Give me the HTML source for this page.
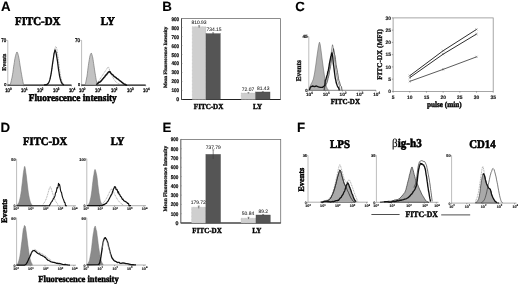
<!DOCTYPE html>
<html><head><meta charset="utf-8"><title>Figure</title>
<style>html,body{margin:0;padding:0;background:#fff;}body{width:520px;height:284px;overflow:hidden;}svg{display:block;filter:blur(0.22px);}text{text-rendering:geometricPrecision;}.S{font-family:'Liberation Serif', serif;}.N{font-family:'Liberation Sans', sans-serif;}</style>
</head><body>
<svg width="520" height="284" viewBox="0 0 520 284">
<rect x="0" y="0" width="520" height="284" fill="#fff" stroke="none" stroke-width="1"/>
<text class="N" x="0.9" y="10.6" font-size="13.3" font-weight="bold" text-anchor="start" fill="#000" stroke="#000" stroke-width="0.1">A</text>
<text class="N" x="162.2" y="10.7" font-size="13.3" font-weight="bold" text-anchor="start" fill="#000" stroke="#000" stroke-width="0.1">B</text>
<text class="N" x="295.2" y="10.9" font-size="13.3" font-weight="bold" text-anchor="start" fill="#000" stroke="#000" stroke-width="0.1">C</text>
<text class="N" x="0.6" y="131.7" font-size="13.3" font-weight="bold" text-anchor="start" fill="#000" stroke="#000" stroke-width="0.1">D</text>
<text class="N" x="162.5" y="131.8" font-size="13.3" font-weight="bold" text-anchor="start" fill="#000" stroke="#000" stroke-width="0.1">E</text>
<text class="N" x="296.9" y="131.7" font-size="13.3" font-weight="bold" text-anchor="start" fill="#000" stroke="#000" stroke-width="0.1">F</text>
<text class="S" x="37.8" y="24.6" font-size="11.88" font-weight="bold" text-anchor="middle" fill="#000" textLength="45.42" lengthAdjust="spacingAndGlyphs" stroke="#000" stroke-width="0.59">FITC-DX</text>
<text class="S" x="107.8" y="24.6" font-size="11.88" font-weight="bold" text-anchor="middle" fill="#000" textLength="14.14" lengthAdjust="spacingAndGlyphs" stroke="#000" stroke-width="0.59">LY</text>
<line x1="7.8" y1="40.4" x2="7.8" y2="85.1" stroke="#8f8f8f" stroke-width="0.6"/>
<line x1="6.3" y1="40.4" x2="7.8" y2="40.4" stroke="#8f8f8f" stroke-width="0.5"/>
<line x1="7.5" y1="85.1" x2="71.5" y2="85.1" stroke="#111" stroke-width="1.25"/>
<g transform="translate(6.2 42.3) scale(0.84 1)"><text class="N" x="0" y="0" font-size="5.3" text-anchor="end" fill="#000" stroke="#000" stroke-width="0.3">70</text></g>
<g transform="translate(6.4 86.4) scale(0.9 1)"><text class="N" x="0" y="0" font-size="4.24" text-anchor="end" fill="#000" stroke="#000" stroke-width="0.25">0</text></g>
<line x1="7.8" y1="85.1" x2="7.8" y2="86.3" stroke="#555" stroke-width="0.5"/>
<g transform="translate(8.4 92) scale(0.82 1)"><text class="N" x="0" y="0" font-size="5.3" text-anchor="middle" fill="#000" stroke="#000" stroke-width="0.3">10<tspan dy="-1.91" font-size="3.5">0</tspan></text></g>
<line x1="23.73" y1="85.1" x2="23.73" y2="86.3" stroke="#555" stroke-width="0.5"/>
<g transform="translate(24.33 92) scale(0.82 1)"><text class="N" x="0" y="0" font-size="5.3" text-anchor="middle" fill="#000" stroke="#000" stroke-width="0.3">10<tspan dy="-1.91" font-size="3.5">1</tspan></text></g>
<line x1="39.65" y1="85.1" x2="39.65" y2="86.3" stroke="#555" stroke-width="0.5"/>
<g transform="translate(40.25 92) scale(0.82 1)"><text class="N" x="0" y="0" font-size="5.3" text-anchor="middle" fill="#000" stroke="#000" stroke-width="0.3">10<tspan dy="-1.91" font-size="3.5">2</tspan></text></g>
<line x1="55.58" y1="85.1" x2="55.58" y2="86.3" stroke="#555" stroke-width="0.5"/>
<g transform="translate(56.18 92) scale(0.82 1)"><text class="N" x="0" y="0" font-size="5.3" text-anchor="middle" fill="#000" stroke="#000" stroke-width="0.3">10<tspan dy="-1.91" font-size="3.5">3</tspan></text></g>
<line x1="71.5" y1="85.1" x2="71.5" y2="86.3" stroke="#555" stroke-width="0.5"/>
<g transform="translate(72.1 92) scale(0.82 1)"><text class="N" x="0" y="0" font-size="5.3" text-anchor="middle" fill="#000" stroke="#000" stroke-width="0.3">10<tspan dy="-1.91" font-size="3.5">4</tspan></text></g>
<path d="M10.1 84.91 L10.25 84.38 L10.46 84.01 L10.71 82.89 L11 82.02 L11.33 80.55 L11.71 78.75 L12.11 77.09 L12.5 74.77 L12.88 72.52 L13.26 69.58 L13.64 66.81 L14 64.46 L14.35 62.45 L14.68 60.03 L15 58.23 L15.3 56.86 L15.58 55.77 L15.84 54.62 L16.08 53.77 L16.3 53.44 L16.5 52.49 L16.67 52.59 L16.83 52.14 L17 52.02 L17.17 52.05 L17.33 52.3 L17.5 52.86 L17.7 53.04 L17.92 53.9 L18.16 54.73 L18.42 55.63 L18.7 57.02 L19 58.49 L19.33 60.52 L19.67 62.75 L20 65.09 L20.32 66.99 L20.65 68.97 L20.98 71.11 L21.3 72.98 L21.63 74.77 L21.97 76.83 L22.3 78.51 L22.6 79.87 L22.89 81.55 L23.18 82.95 L23.43 84.34 L23.6 85 Z" fill="#c2c2c2" stroke="#777" stroke-width="0.7" stroke-linejoin="round"/>
<path d="M45 85 L45.5 84.87 L46 84.78 L46.5 84.64 L47 84.43 L47.5 84.11 L48 83.65 L48.5 83.01 L49 82.12 L49.5 80.93 L50 79.38 L50.5 77.43 L51 75.04 L51.5 72.2 L52 68.96 L52.5 65.37 L53 61.59 L53.5 57.77 L54 54.14 L54.5 50.95 L55 48.43 L55.5 46.85 L56 46.44 L56.5 47.49 L57 49.75 L57.5 52.92 L58 56.69 L58.5 60.76 L59 64.85 L59.5 68.73 L60 72.23 L60.5 75.25 L61 77.76 L61.5 79.77 L62 81.33 L62.5 82.49 L63 83.33 L63.5 83.92 L64 85" fill="none" stroke="#707070" stroke-width="0.6" stroke-linejoin="round" stroke-dasharray="1 0.7"/>
<path d="M44 85 L44.5 84.88 L45 85 L45.5 84.74 L46 84.77 L46.5 84.76 L47 84.3 L47.5 84.11 L48 83.43 L48.5 83 L49 82.07 L49.5 80.66 L50 79.13 L50.5 76.62 L51 74.28 L51.5 71.15 L52 67.73 L52.5 63.96 L53 60.77 L53.5 57.5 L54 53.88 L54.5 51.96 L55 49.81 L55.5 51.01 L56 52.42 L56.5 55.46 L57 58.45 L57.5 61.46 L58 65.42 L58.5 69.4 L59 72.24 L59.5 75.55 L60 77.83 L60.5 79.79 L61 81.3 L61.5 82.77 L62 83.29 L62.5 83.91 L63 84.34 L63.5 84.77 L64 85" fill="none" stroke="#111" stroke-width="1.25" stroke-linejoin="round"/>
<text class="S" x="6.3" y="62.2" font-size="5.9" font-weight="bold" text-anchor="middle" fill="#111" transform="rotate(-90 6.3 62.2)" stroke="#111" stroke-width="0.3">Events</text>
<line x1="81.6" y1="40.4" x2="81.6" y2="85.1" stroke="#8f8f8f" stroke-width="0.6"/>
<line x1="80.1" y1="40.4" x2="81.6" y2="40.4" stroke="#8f8f8f" stroke-width="0.5"/>
<line x1="81.3" y1="85.1" x2="145.7" y2="85.1" stroke="#111" stroke-width="1.25"/>
<g transform="translate(80 42.3) scale(0.84 1)"><text class="N" x="0" y="0" font-size="5.3" text-anchor="end" fill="#000" stroke="#000" stroke-width="0.3">70</text></g>
<g transform="translate(80.2 86.4) scale(0.9 1)"><text class="N" x="0" y="0" font-size="4.24" text-anchor="end" fill="#000" stroke="#000" stroke-width="0.25">0</text></g>
<line x1="81.6" y1="85.1" x2="81.6" y2="86.3" stroke="#555" stroke-width="0.5"/>
<g transform="translate(82.2 92) scale(0.82 1)"><text class="N" x="0" y="0" font-size="5.3" text-anchor="middle" fill="#000" stroke="#000" stroke-width="0.3">10<tspan dy="-1.91" font-size="3.5">0</tspan></text></g>
<line x1="97.62" y1="85.1" x2="97.62" y2="86.3" stroke="#555" stroke-width="0.5"/>
<g transform="translate(98.22 92) scale(0.82 1)"><text class="N" x="0" y="0" font-size="5.3" text-anchor="middle" fill="#000" stroke="#000" stroke-width="0.3">10<tspan dy="-1.91" font-size="3.5">1</tspan></text></g>
<line x1="113.65" y1="85.1" x2="113.65" y2="86.3" stroke="#555" stroke-width="0.5"/>
<g transform="translate(114.25 92) scale(0.82 1)"><text class="N" x="0" y="0" font-size="5.3" text-anchor="middle" fill="#000" stroke="#000" stroke-width="0.3">10<tspan dy="-1.91" font-size="3.5">2</tspan></text></g>
<line x1="129.67" y1="85.1" x2="129.67" y2="86.3" stroke="#555" stroke-width="0.5"/>
<g transform="translate(130.27 92) scale(0.82 1)"><text class="N" x="0" y="0" font-size="5.3" text-anchor="middle" fill="#000" stroke="#000" stroke-width="0.3">10<tspan dy="-1.91" font-size="3.5">3</tspan></text></g>
<line x1="145.7" y1="85.1" x2="145.7" y2="86.3" stroke="#555" stroke-width="0.5"/>
<g transform="translate(146.3 92) scale(0.82 1)"><text class="N" x="0" y="0" font-size="5.3" text-anchor="middle" fill="#000" stroke="#000" stroke-width="0.3">10<tspan dy="-1.91" font-size="3.5">4</tspan></text></g>
<path d="M84.77 84.97 L84.91 84.78 L85.1 84.63 L85.34 84.06 L85.61 83.18 L85.92 81.57 L86.27 79.99 L86.64 78.04 L87 76.19 L87.35 73.78 L87.71 70.62 L88.06 67.85 L88.4 65.37 L88.72 63.15 L89.03 61.21 L89.33 59.42 L89.61 57.68 L89.86 56.3 L90.1 55.54 L90.33 54.76 L90.53 54.23 L90.72 53.95 L90.88 53.51 L91.03 53.26 L91.19 53.26 L91.34 53.33 L91.49 53.18 L91.65 53.91 L91.84 54.34 L92.04 55.04 L92.27 55.81 L92.51 56.64 L92.77 57.95 L93.05 59.51 L93.35 61.8 L93.67 63.68 L93.98 65.78 L94.28 67.88 L94.58 69.89 L94.88 71.99 L95.19 73.78 L95.49 75.64 L95.81 77.58 L96.11 79.29 L96.39 80.93 L96.67 82.07 L96.93 83.62 L97.16 84.41 L97.32 85 Z" fill="#c2c2c2" stroke="#777" stroke-width="0.7" stroke-linejoin="round"/>
<path d="M96 84.5 L96.78 83.48 L97.89 82.02 L99 80.5 L100 79.04 L101 77.52 L102 76 L103.02 74.46 L104.04 72.93 L105 71.5 L105.9 70.17 L106.73 68.94 L107.4 68 L107.84 67.35 L108.12 66.98 L108.4 67 L108.71 67.5 L109.02 68.39 L109.4 69.5 L109.86 70.85 L110.38 72.43 L111 74 L111.77 75.54 L112.63 77.07 L113.5 78.5 L114.28 79.78 L115.06 80.94 L116 82 L117.37 83 L118.91 83.89 L120 84.5" fill="none" stroke="#707070" stroke-width="0.6" stroke-linejoin="round" stroke-dasharray="1 0.7"/>
<path d="M96.3 84.59 L96.74 84.25 L97.38 83.73 L98.1 83.11 L98.8 82.37 L99.47 82.32 L100.15 81.95 L100.83 81.15 L101.5 80.59 L102.14 79.67 L102.76 78.93 L103.38 78.29 L104 77.46 L104.64 77.01 L105.29 75.8 L105.92 74.93 L106.5 74.77 L107.04 73.87 L107.54 73.04 L108 72.76 L108.4 72.02 L108.71 71.97 L108.94 71.97 L109.16 71.74 L109.4 71.62 L109.66 71.51 L109.91 71.87 L110.21 72.15 L110.6 72.96 L111.1 73.34 L111.69 74.1 L112.33 74.48 L113 75.03 L113.71 75.96 L114.46 76.63 L115.24 77.12 L116 77.68 L116.75 78.3 L117.5 78.88 L118.25 79.2 L119 80.01 L119.75 80.58 L120.5 81.07 L121.25 81.73 L122 82.47 L122.77 82.94 L123.56 83.63 L124.32 84.15 L125 84.17 L125.62 84.74 L126.19 84.99 L126.66 85.15 L127 85" fill="none" stroke="#111" stroke-width="1.5" stroke-linejoin="round"/>
<text class="S" x="72.8" y="101.1" font-size="10.14" font-weight="bold" text-anchor="middle" fill="#000" textLength="87.9" lengthAdjust="spacingAndGlyphs" stroke="#000" stroke-width="0.51">Fluorescence intensity</text>
<rect x="181.5" y="18.6" width="99" height="80.9" fill="#fff" stroke="#707070" stroke-width="0.8"/>
<line x1="181.5" y1="18.6" x2="181.5" y2="99.5" stroke="#444" stroke-width="0.9"/>
<line x1="181.5" y1="99.5" x2="280.5" y2="99.5" stroke="#222" stroke-width="1"/>
<line x1="181.5" y1="99.5" x2="182.7" y2="99.5" stroke="#777" stroke-width="0.4"/>
<text class="N" x="179.1" y="101.45" font-size="5.3" font-weight="bold" text-anchor="end" fill="#0a0a0a" stroke="#0a0a0a" stroke-width="0.18">0</text>
<line x1="181.5" y1="90.51" x2="182.7" y2="90.51" stroke="#777" stroke-width="0.4"/>
<text class="N" x="179.1" y="92.46" font-size="5.3" font-weight="bold" text-anchor="end" fill="#0a0a0a" textLength="7.67" lengthAdjust="spacingAndGlyphs" stroke="#0a0a0a" stroke-width="0.18">100</text>
<line x1="181.5" y1="81.52" x2="182.7" y2="81.52" stroke="#777" stroke-width="0.4"/>
<text class="N" x="179.1" y="83.47" font-size="5.3" font-weight="bold" text-anchor="end" fill="#0a0a0a" textLength="7.67" lengthAdjust="spacingAndGlyphs" stroke="#0a0a0a" stroke-width="0.18">200</text>
<line x1="181.5" y1="72.53" x2="182.7" y2="72.53" stroke="#777" stroke-width="0.4"/>
<text class="N" x="179.1" y="74.48" font-size="5.3" font-weight="bold" text-anchor="end" fill="#0a0a0a" textLength="7.67" lengthAdjust="spacingAndGlyphs" stroke="#0a0a0a" stroke-width="0.18">300</text>
<line x1="181.5" y1="63.54" x2="182.7" y2="63.54" stroke="#777" stroke-width="0.4"/>
<text class="N" x="179.1" y="65.49" font-size="5.3" font-weight="bold" text-anchor="end" fill="#0a0a0a" textLength="7.67" lengthAdjust="spacingAndGlyphs" stroke="#0a0a0a" stroke-width="0.18">400</text>
<line x1="181.5" y1="54.56" x2="182.7" y2="54.56" stroke="#777" stroke-width="0.4"/>
<text class="N" x="179.1" y="56.51" font-size="5.3" font-weight="bold" text-anchor="end" fill="#0a0a0a" textLength="7.67" lengthAdjust="spacingAndGlyphs" stroke="#0a0a0a" stroke-width="0.18">500</text>
<line x1="181.5" y1="45.57" x2="182.7" y2="45.57" stroke="#777" stroke-width="0.4"/>
<text class="N" x="179.1" y="47.52" font-size="5.3" font-weight="bold" text-anchor="end" fill="#0a0a0a" textLength="7.67" lengthAdjust="spacingAndGlyphs" stroke="#0a0a0a" stroke-width="0.18">600</text>
<line x1="181.5" y1="36.58" x2="182.7" y2="36.58" stroke="#777" stroke-width="0.4"/>
<text class="N" x="179.1" y="38.53" font-size="5.3" font-weight="bold" text-anchor="end" fill="#0a0a0a" textLength="7.67" lengthAdjust="spacingAndGlyphs" stroke="#0a0a0a" stroke-width="0.18">700</text>
<line x1="181.5" y1="27.59" x2="182.7" y2="27.59" stroke="#777" stroke-width="0.4"/>
<text class="N" x="179.1" y="29.54" font-size="5.3" font-weight="bold" text-anchor="end" fill="#0a0a0a" textLength="7.67" lengthAdjust="spacingAndGlyphs" stroke="#0a0a0a" stroke-width="0.18">800</text>
<line x1="181.5" y1="18.6" x2="182.7" y2="18.6" stroke="#777" stroke-width="0.4"/>
<text class="N" x="179.1" y="20.55" font-size="5.3" font-weight="bold" text-anchor="end" fill="#0a0a0a" textLength="7.67" lengthAdjust="spacingAndGlyphs" stroke="#0a0a0a" stroke-width="0.18">900</text>
<rect x="192.3" y="26.7" width="13.7" height="72.8" fill="#cfcfcf" stroke="#a8a8a8" stroke-width="0.4" stroke-dasharray="0.8 0.6"/>
<line x1="199.15" y1="25.7" x2="199.15" y2="27.7" stroke="#3a3a3a" stroke-width="0.6"/>
<line x1="198.15" y1="25.7" x2="200.15" y2="25.7" stroke="#3a3a3a" stroke-width="0.45"/>
<rect x="206" y="33.7" width="14.2" height="65.8" fill="#555555" stroke="#444" stroke-width="0.4"/>
<line x1="213.1" y1="32.7" x2="213.1" y2="34.7" stroke="#3a3a3a" stroke-width="0.6"/>
<line x1="212.1" y1="32.7" x2="214.1" y2="32.7" stroke="#3a3a3a" stroke-width="0.45"/>
<rect x="241.2" y="93" width="14.5" height="6.5" fill="#cfcfcf" stroke="#a8a8a8" stroke-width="0.4" stroke-dasharray="0.8 0.6"/>
<line x1="248.45" y1="92.6" x2="248.45" y2="93.4" stroke="#3a3a3a" stroke-width="0.6"/>
<line x1="247.45" y1="92.6" x2="249.45" y2="92.6" stroke="#3a3a3a" stroke-width="0.45"/>
<rect x="255.7" y="92" width="14.3" height="7.5" fill="#555555" stroke="#444" stroke-width="0.4"/>
<line x1="262.85" y1="91.6" x2="262.85" y2="92.4" stroke="#3a3a3a" stroke-width="0.6"/>
<line x1="261.85" y1="91.6" x2="263.85" y2="91.6" stroke="#3a3a3a" stroke-width="0.45"/>
<text class="N" x="199" y="24.2" font-size="4.9" font-weight="normal" text-anchor="middle" fill="#1a1a1a" textLength="15.17" lengthAdjust="spacingAndGlyphs" stroke="#1a1a1a" stroke-width="0.06">810.93</text>
<text class="N" x="214" y="30.5" font-size="4.9" font-weight="normal" text-anchor="middle" fill="#1a1a1a" textLength="15.17" lengthAdjust="spacingAndGlyphs" stroke="#1a1a1a" stroke-width="0.06">734.15</text>
<text class="N" x="248" y="90.7" font-size="4.9" font-weight="normal" text-anchor="middle" fill="#1a1a1a" textLength="12.41" lengthAdjust="spacingAndGlyphs" stroke="#1a1a1a" stroke-width="0.06">72.07</text>
<text class="N" x="263.2" y="90.1" font-size="4.9" font-weight="normal" text-anchor="middle" fill="#1a1a1a" textLength="12.41" lengthAdjust="spacingAndGlyphs" stroke="#1a1a1a" stroke-width="0.06">81.43</text>
<text class="S" x="167.3" y="57.35" font-size="5" font-weight="bold" text-anchor="middle" fill="#111" transform="rotate(-90 167.3 57.35)" stroke="#111" stroke-width="0.25">Mean Fluorescence Intensity</text>
<text class="S" x="208.6" y="109.4" font-size="7.74" font-weight="bold" text-anchor="middle" fill="#000" textLength="29.58" lengthAdjust="spacingAndGlyphs" stroke="#000" stroke-width="0.39">FITC-DX</text>
<text class="S" x="257.6" y="109.4" font-size="7.74" font-weight="bold" text-anchor="middle" fill="#000" textLength="9.21" lengthAdjust="spacingAndGlyphs" stroke="#000" stroke-width="0.39">LY</text>
<line x1="308.8" y1="36.6" x2="308.8" y2="90.3" stroke="#8f8f8f" stroke-width="0.6"/>
<line x1="307.3" y1="36.6" x2="308.8" y2="36.6" stroke="#8f8f8f" stroke-width="0.5"/>
<line x1="308.5" y1="90.3" x2="376" y2="90.3" stroke="#777" stroke-width="0.9"/>
<text class="N" x="307.8" y="38.4" font-size="4.8" font-weight="bold" text-anchor="end" fill="#111" stroke="#111" stroke-width="0.14">45</text>
<text class="N" x="307.6" y="91.8" font-size="4.42" font-weight="bold" text-anchor="end" fill="#222" stroke="#222" stroke-width="0.13">0</text>
<line x1="308.8" y1="90.3" x2="308.8" y2="91.5" stroke="#555" stroke-width="0.5"/>
<text class="N" x="309.5" y="95.69" font-size="4.7" font-weight="bold" text-anchor="middle" fill="#111" stroke="#111" stroke-width="0.12">10<tspan dy="-1.5" font-size="3.38">0</tspan></text>
<line x1="325.6" y1="90.3" x2="325.6" y2="91.5" stroke="#555" stroke-width="0.5"/>
<text class="N" x="326.3" y="95.69" font-size="4.7" font-weight="bold" text-anchor="middle" fill="#111" stroke="#111" stroke-width="0.12">10<tspan dy="-1.5" font-size="3.38">1</tspan></text>
<line x1="342.4" y1="90.3" x2="342.4" y2="91.5" stroke="#555" stroke-width="0.5"/>
<text class="N" x="343.1" y="95.69" font-size="4.7" font-weight="bold" text-anchor="middle" fill="#111" stroke="#111" stroke-width="0.12">10<tspan dy="-1.5" font-size="3.38">2</tspan></text>
<line x1="359.2" y1="90.3" x2="359.2" y2="91.5" stroke="#555" stroke-width="0.5"/>
<text class="N" x="359.9" y="95.69" font-size="4.7" font-weight="bold" text-anchor="middle" fill="#111" stroke="#111" stroke-width="0.12">10<tspan dy="-1.5" font-size="3.38">3</tspan></text>
<line x1="376" y1="90.3" x2="376" y2="91.5" stroke="#555" stroke-width="0.5"/>
<text class="N" x="376.7" y="95.69" font-size="4.7" font-weight="bold" text-anchor="middle" fill="#111" stroke="#111" stroke-width="0.12">10<tspan dy="-1.5" font-size="3.38">4</tspan></text>
<text class="S" x="300.6" y="70.8" font-size="7.3" font-weight="bold" text-anchor="middle" fill="#111" transform="rotate(-90 300.6 70.8)" stroke="#111" stroke-width="0.36">Events</text>
<path d="M309 90.3 L309.6 87.5 L310.8 84.5 L312.2 82 L313.4 79 L314.6 73 L315.8 65 L317 56 L318.2 48 L319 43.5 L319.5 42.2 L320.2 44.5 L321.1 51 L322.1 59 L323.2 67 L324.3 75 L325.4 82 L326.4 86.5 L327.4 89 L328.5 90.3 Z" fill="#b2b2b2" stroke="#6a6a6a" stroke-width="0.6" stroke-linejoin="round"/>
<path d="M324 90.3 L324.5 87.1 L325 86.39 L325.5 85.5 L326 84.48 L326.5 83.75 L327 82.71 L327.5 81.06 L328 78.73 L328.5 76.9 L329 74.83 L329.5 70.95 L330 69.22 L330.5 66.78 L331 63.39 L331.5 60.13 L332 56.25 L332.5 52.39 L333 51.71 L333.5 48.59 L334 51.11 L334.5 54.2 L335 55.74 L335.5 59.3 L336 64.2 L336.5 67.11 L337 69.28 L337.5 72.3 L338 75.14 L338.5 78.73 L339 80.67 L339.5 81.65 L340 84.01 L340.5 85.46 L341 86.18 L341.5 86.78 L342 90.3" fill="none" stroke="#222" stroke-width="0.7" stroke-linejoin="round"/>
<path d="M324.5 90.3 L325 85.45 L325.5 84.35 L326 83.04 L326.5 81.5 L327 79.7 L327.5 77.62 L328 75.23 L328.5 72.52 L329 69.48 L329.5 66.14 L330 62.52 L330.5 58.69 L331 54.75 L331.5 50.88 L332 47.35 L332.5 44.74 L333 46.44 L333.5 50.26 L334 54.61 L334.5 59.06 L335 63.36 L335.5 67.37 L336 71 L336.5 74.23 L337 77.04 L337.5 79.47 L338 81.52 L338.5 83.24 L339 84.66 L339.5 85.83 L340 90.3" fill="none" stroke="#444" stroke-width="0.55" stroke-linejoin="round"/>
<path d="M309.4 89.9 L310.4 87.2 L312.4 86 L314.4 86.6 L316.4 86 L318.4 86.9 L320.4 87.4 L322.4 87.4 L324 86.2 L324.8 85.2 L325.3 80.05 L325.8 79.85 L326.3 77.85 L326.8 75.92 L327.3 74.68 L327.8 71.77 L328.3 70.38 L328.8 67.99 L329.3 64.23 L329.8 61.77 L330.3 59.33 L330.8 56.75 L331.3 55.5 L331.8 52.87 L332.3 54.35 L332.8 57.38 L333.3 63.6 L333.8 66.66 L334.3 70.92 L334.8 74.74 L335.3 78.31 L335.8 80.28 L336.3 83.04 L336.8 84.35 L337.3 85.8 L337.8 86.9 L338.3 87.36 L338.8 88.37 L339.3 90.3" fill="none" stroke="#111" stroke-width="1.35" stroke-linejoin="round"/>
<text class="S" x="345.4" y="103.5" font-size="7.63" font-weight="bold" text-anchor="middle" fill="#000" textLength="29.17" lengthAdjust="spacingAndGlyphs" stroke="#000" stroke-width="0.38">FITC-DX</text>
<rect x="393.1" y="17.9" width="100.1" height="73.5" fill="#fff" stroke="#909090" stroke-width="0.8"/>
<line x1="391.8" y1="91.4" x2="393.1" y2="91.4" stroke="#555" stroke-width="0.5"/>
<text class="N" x="390.9" y="93.15" font-size="4.9" font-weight="bold" text-anchor="end" fill="#1a1a1a" stroke="#1a1a1a" stroke-width="0.15">0</text>
<line x1="391.8" y1="79.15" x2="393.1" y2="79.15" stroke="#555" stroke-width="0.5"/>
<text class="N" x="390.9" y="80.9" font-size="4.9" font-weight="bold" text-anchor="end" fill="#1a1a1a" stroke="#1a1a1a" stroke-width="0.15">5</text>
<line x1="391.8" y1="66.9" x2="393.1" y2="66.9" stroke="#555" stroke-width="0.5"/>
<text class="N" x="390.9" y="68.65" font-size="4.9" font-weight="bold" text-anchor="end" fill="#1a1a1a" stroke="#1a1a1a" stroke-width="0.15">10</text>
<line x1="391.8" y1="54.65" x2="393.1" y2="54.65" stroke="#555" stroke-width="0.5"/>
<text class="N" x="390.9" y="56.4" font-size="4.9" font-weight="bold" text-anchor="end" fill="#1a1a1a" stroke="#1a1a1a" stroke-width="0.15">15</text>
<line x1="391.8" y1="42.4" x2="393.1" y2="42.4" stroke="#555" stroke-width="0.5"/>
<text class="N" x="390.9" y="44.15" font-size="4.9" font-weight="bold" text-anchor="end" fill="#1a1a1a" stroke="#1a1a1a" stroke-width="0.15">20</text>
<line x1="391.8" y1="30.15" x2="393.1" y2="30.15" stroke="#555" stroke-width="0.5"/>
<text class="N" x="390.9" y="31.9" font-size="4.9" font-weight="bold" text-anchor="end" fill="#1a1a1a" stroke="#1a1a1a" stroke-width="0.15">25</text>
<line x1="391.8" y1="17.9" x2="393.1" y2="17.9" stroke="#555" stroke-width="0.5"/>
<text class="N" x="390.9" y="19.65" font-size="4.9" font-weight="bold" text-anchor="end" fill="#1a1a1a" stroke="#1a1a1a" stroke-width="0.15">30</text>
<line x1="393.1" y1="91.4" x2="393.1" y2="92.7" stroke="#555" stroke-width="0.5"/>
<text class="N" x="393.1" y="98.9" font-size="4.9" font-weight="bold" text-anchor="middle" fill="#1a1a1a" stroke="#1a1a1a" stroke-width="0.15">5</text>
<line x1="409.78" y1="91.4" x2="409.78" y2="92.7" stroke="#555" stroke-width="0.5"/>
<text class="N" x="409.78" y="98.9" font-size="4.9" font-weight="bold" text-anchor="middle" fill="#1a1a1a" stroke="#1a1a1a" stroke-width="0.15">10</text>
<line x1="426.47" y1="91.4" x2="426.47" y2="92.7" stroke="#555" stroke-width="0.5"/>
<text class="N" x="426.47" y="98.9" font-size="4.9" font-weight="bold" text-anchor="middle" fill="#1a1a1a" stroke="#1a1a1a" stroke-width="0.15">15</text>
<line x1="443.15" y1="91.4" x2="443.15" y2="92.7" stroke="#555" stroke-width="0.5"/>
<text class="N" x="443.15" y="98.9" font-size="4.9" font-weight="bold" text-anchor="middle" fill="#1a1a1a" stroke="#1a1a1a" stroke-width="0.15">20</text>
<line x1="459.83" y1="91.4" x2="459.83" y2="92.7" stroke="#555" stroke-width="0.5"/>
<text class="N" x="459.83" y="98.9" font-size="4.9" font-weight="bold" text-anchor="middle" fill="#1a1a1a" stroke="#1a1a1a" stroke-width="0.15">25</text>
<line x1="476.52" y1="91.4" x2="476.52" y2="92.7" stroke="#555" stroke-width="0.5"/>
<text class="N" x="476.52" y="98.9" font-size="4.9" font-weight="bold" text-anchor="middle" fill="#1a1a1a" stroke="#1a1a1a" stroke-width="0.15">30</text>
<line x1="493.2" y1="91.4" x2="493.2" y2="92.7" stroke="#555" stroke-width="0.5"/>
<text class="N" x="493.2" y="98.9" font-size="4.9" font-weight="bold" text-anchor="middle" fill="#1a1a1a" stroke="#1a1a1a" stroke-width="0.15">35</text>
<path d="M409.78 75.72 L443.15 50.73 L476.52 29.42" fill="none" stroke="#2e2e2e" stroke-width="1" stroke-linejoin="round"/>
<line x1="408.68" y1="74.62" x2="410.88" y2="76.82" stroke="#444" stroke-width="0.4"/>
<line x1="408.68" y1="76.82" x2="410.88" y2="74.62" stroke="#444" stroke-width="0.4"/>
<line x1="442.05" y1="49.63" x2="444.25" y2="51.83" stroke="#444" stroke-width="0.4"/>
<line x1="442.05" y1="51.83" x2="444.25" y2="49.63" stroke="#444" stroke-width="0.4"/>
<line x1="475.42" y1="28.32" x2="477.62" y2="30.52" stroke="#444" stroke-width="0.4"/>
<line x1="475.42" y1="30.52" x2="477.62" y2="28.32" stroke="#444" stroke-width="0.4"/>
<path d="M409.78 77.68 L443.15 54.16 L476.52 34.07" fill="none" stroke="#2e2e2e" stroke-width="1" stroke-linejoin="round"/>
<line x1="408.68" y1="76.58" x2="410.88" y2="78.78" stroke="#444" stroke-width="0.4"/>
<line x1="408.68" y1="78.78" x2="410.88" y2="76.58" stroke="#444" stroke-width="0.4"/>
<line x1="442.05" y1="53.06" x2="444.25" y2="55.26" stroke="#444" stroke-width="0.4"/>
<line x1="442.05" y1="55.26" x2="444.25" y2="53.06" stroke="#444" stroke-width="0.4"/>
<line x1="475.42" y1="32.97" x2="477.62" y2="35.17" stroke="#444" stroke-width="0.4"/>
<line x1="475.42" y1="35.17" x2="477.62" y2="32.97" stroke="#444" stroke-width="0.4"/>
<path d="M409.78 81.36 L443.15 69.35 L476.52 56.86" fill="none" stroke="#484848" stroke-width="0.9" stroke-linejoin="round"/>
<line x1="408.68" y1="80.26" x2="410.88" y2="82.45" stroke="#444" stroke-width="0.4"/>
<line x1="408.68" y1="82.45" x2="410.88" y2="80.26" stroke="#444" stroke-width="0.4"/>
<line x1="442.05" y1="68.25" x2="444.25" y2="70.45" stroke="#444" stroke-width="0.4"/>
<line x1="442.05" y1="70.45" x2="444.25" y2="68.25" stroke="#444" stroke-width="0.4"/>
<line x1="475.42" y1="55.76" x2="477.62" y2="57.96" stroke="#444" stroke-width="0.4"/>
<line x1="475.42" y1="57.96" x2="477.62" y2="55.76" stroke="#444" stroke-width="0.4"/>
<text class="S" x="381.8" y="54.4" font-size="7.2" font-weight="bold" text-anchor="middle" fill="#111" transform="rotate(-90 381.8 54.4)" stroke="#111" stroke-width="0.36">FITC-DX (MFI)</text>
<text class="S" x="444.3" y="107.1" font-size="7.85" font-weight="bold" text-anchor="middle" fill="#000" textLength="34.6" lengthAdjust="spacingAndGlyphs" stroke="#000" stroke-width="0.39">pulse (min)</text>
<text class="S" x="45.2" y="145.2" font-size="11.55" font-weight="bold" text-anchor="middle" fill="#000" textLength="44.17" lengthAdjust="spacingAndGlyphs" stroke="#000" stroke-width="0.58">FITC-DX</text>
<text class="S" x="117.6" y="145.2" font-size="11.55" font-weight="bold" text-anchor="middle" fill="#000" textLength="13.75" lengthAdjust="spacingAndGlyphs" stroke="#000" stroke-width="0.58">LY</text>
<text class="S" x="7.2" y="211" font-size="8.4" font-weight="bold" text-anchor="middle" fill="#000" transform="rotate(-90 7.2 211)" stroke="#000" stroke-width="0.42">Events</text>
<line x1="16.6" y1="159.2" x2="16.6" y2="205.8" stroke="#8f8f8f" stroke-width="0.6"/>
<line x1="15.1" y1="159.2" x2="16.6" y2="159.2" stroke="#8f8f8f" stroke-width="0.5"/>
<line x1="16.3" y1="205.8" x2="76" y2="205.8" stroke="#8a8a8a" stroke-width="0.7"/>
<text class="N" x="15.6" y="161" font-size="3.9" font-weight="bold" text-anchor="end" fill="#111" stroke="#111" stroke-width="0.12">50</text>
<text class="N" x="15.4" y="207.3" font-size="3.59" font-weight="bold" text-anchor="end" fill="#222" stroke="#222" stroke-width="0.11">0</text>
<line x1="15.4" y1="205.8" x2="15.4" y2="207" stroke="#555" stroke-width="0.5"/>
<text class="N" x="16.1" y="210.32" font-size="3.7" font-weight="bold" text-anchor="middle" fill="#111" stroke="#111" stroke-width="0.12">10<tspan dy="-1.18" font-size="2.66">0</tspan></text>
<line x1="30.2" y1="205.8" x2="30.2" y2="207" stroke="#555" stroke-width="0.5"/>
<text class="N" x="30.9" y="210.32" font-size="3.7" font-weight="bold" text-anchor="middle" fill="#111" stroke="#111" stroke-width="0.12">10<tspan dy="-1.18" font-size="2.66">1</tspan></text>
<line x1="45" y1="205.8" x2="45" y2="207" stroke="#555" stroke-width="0.5"/>
<text class="N" x="45.7" y="210.32" font-size="3.7" font-weight="bold" text-anchor="middle" fill="#111" stroke="#111" stroke-width="0.12">10<tspan dy="-1.18" font-size="2.66">2</tspan></text>
<line x1="59.8" y1="205.8" x2="59.8" y2="207" stroke="#555" stroke-width="0.5"/>
<text class="N" x="60.5" y="210.32" font-size="3.7" font-weight="bold" text-anchor="middle" fill="#111" stroke="#111" stroke-width="0.12">10<tspan dy="-1.18" font-size="2.66">3</tspan></text>
<line x1="73.9" y1="205.8" x2="73.9" y2="207" stroke="#555" stroke-width="0.5"/>
<text class="N" x="74.6" y="210.32" font-size="3.7" font-weight="bold" text-anchor="middle" fill="#111" stroke="#111" stroke-width="0.12">10<tspan dy="-1.18" font-size="2.66">4</tspan></text>
<path d="M16.88 205.8 L17.38 204.83 L17.88 203.97 L18.38 203.33 L18.88 202.39 L19.38 200.85 L19.88 198.81 L20.38 196.55 L20.88 193.64 L21.38 190.4 L21.88 185.69 L22.38 181.88 L22.88 176.95 L23.38 172.64 L23.88 169.75 L24.38 166.69 L24.88 166.39 L25.38 168.92 L25.88 172.63 L26.38 176.07 L26.88 180.78 L27.38 185.03 L27.88 189.13 L28.38 192.91 L28.88 195.78 L29.38 198.37 L29.88 200.35 L30.38 202.17 L30.88 203.19 L31.38 204.13 L31.88 204.77 L32.38 205.8 Z" fill="#8b8b8b" stroke="#777" stroke-width="0.5" stroke-linejoin="round"/>
<path d="M42.5 205.8 L43 204.13 L43.5 203.66 L44 203.08 L44.5 202.37 L45 201.52 L45.5 200.51 L46 199.34 L46.5 198 L47 196.49 L47.5 194.85 L48 193.09 L48.5 191.29 L49 189.54 L49.5 187.97 L50 186.82 L50.5 186.95 L51 188.09 L51.5 189.55 L52 191.17 L52.5 192.84 L53 194.48 L53.5 196.03 L54 197.47 L54.5 198.77 L55 199.93 L55.5 200.95 L56 201.82 L56.5 202.57 L57 203.2 L57.5 203.72 L58 205.8" fill="none" stroke="#707070" stroke-width="0.6" stroke-linejoin="round" stroke-dasharray="1 0.7"/>
<path d="M16.4 205.7 L49.5 205.7 L50 204.29 L50.5 203.78 L51 202.51 L51.5 201.88 L52 201.57 L52.5 200.27 L53 199.56 L53.5 198.23 L54 198.06 L54.5 197.02 L55 195.9 L55.5 192.79 L56 192.5 L56.5 190.74 L57 187.63 L57.5 188.19 L58 187.04 L58.5 183.36 L59 185.16 L59.5 184.35 L60 186.51 L60.5 190.1 L61 191.82 L61.5 192.38 L62 195.07 L62.5 197.08 L63 198.42 L63.5 199.63 L64 201.01 L64.5 202.49 L65 202.47 L65.5 205.7 L67 205.7" fill="none" stroke="#111" stroke-width="1.1" stroke-linejoin="round"/>
<line x1="86.8" y1="158.8" x2="86.8" y2="205.7" stroke="#8f8f8f" stroke-width="0.6"/>
<line x1="85.3" y1="158.8" x2="86.8" y2="158.8" stroke="#8f8f8f" stroke-width="0.5"/>
<line x1="86.5" y1="205.7" x2="146" y2="205.7" stroke="#8a8a8a" stroke-width="0.7"/>
<text class="N" x="85.8" y="160.6" font-size="3.9" font-weight="bold" text-anchor="end" fill="#111" stroke="#111" stroke-width="0.12">100</text>
<text class="N" x="85.6" y="207.2" font-size="3.59" font-weight="bold" text-anchor="end" fill="#222" stroke="#222" stroke-width="0.11">0</text>
<line x1="85.3" y1="205.7" x2="85.3" y2="206.9" stroke="#555" stroke-width="0.5"/>
<text class="N" x="86" y="210.22" font-size="3.7" font-weight="bold" text-anchor="middle" fill="#111" stroke="#111" stroke-width="0.12">10<tspan dy="-1.18" font-size="2.66">0</tspan></text>
<line x1="99.5" y1="205.7" x2="99.5" y2="206.9" stroke="#555" stroke-width="0.5"/>
<text class="N" x="100.2" y="210.22" font-size="3.7" font-weight="bold" text-anchor="middle" fill="#111" stroke="#111" stroke-width="0.12">10<tspan dy="-1.18" font-size="2.66">1</tspan></text>
<line x1="114.6" y1="205.7" x2="114.6" y2="206.9" stroke="#555" stroke-width="0.5"/>
<text class="N" x="115.3" y="210.22" font-size="3.7" font-weight="bold" text-anchor="middle" fill="#111" stroke="#111" stroke-width="0.12">10<tspan dy="-1.18" font-size="2.66">2</tspan></text>
<line x1="129.1" y1="205.7" x2="129.1" y2="206.9" stroke="#555" stroke-width="0.5"/>
<text class="N" x="129.8" y="210.22" font-size="3.7" font-weight="bold" text-anchor="middle" fill="#111" stroke="#111" stroke-width="0.12">10<tspan dy="-1.18" font-size="2.66">3</tspan></text>
<line x1="143.9" y1="205.7" x2="143.9" y2="206.9" stroke="#555" stroke-width="0.5"/>
<text class="N" x="144.6" y="210.22" font-size="3.7" font-weight="bold" text-anchor="middle" fill="#111" stroke="#111" stroke-width="0.12">10<tspan dy="-1.18" font-size="2.66">4</tspan></text>
<path d="M87.85 205.7 L88.35 204.38 L88.85 203.81 L89.35 202.91 L89.85 201.4 L90.35 199.15 L90.85 197.21 L91.35 193.97 L91.85 190.53 L92.35 185.61 L92.85 181.58 L93.35 177.22 L93.85 174.77 L94.35 171.31 L94.85 169.51 L95.35 169.73 L95.85 171.57 L96.35 173.62 L96.85 175.97 L97.35 179.71 L97.85 184.8 L98.35 188.51 L98.85 192.45 L99.35 195.32 L99.85 198.14 L100.35 200.74 L100.85 202.26 L101.35 203.3 L101.85 204.52 L102.35 205.7 Z" fill="#8b8b8b" stroke="#777" stroke-width="0.5" stroke-linejoin="round"/>
<path d="M101 205.7 L101.5 204.05 L102 203.74 L102.5 203.39 L103 202.98 L103.5 202.51 L104 201.99 L104.5 201.4 L105 200.74 L105.5 200.01 L106 199.2 L106.5 198.33 L107 197.4 L107.5 196.4 L108 195.36 L108.5 194.28 L109 193.2 L109.5 192.12 L110 191.1 L110.5 190.18 L111 189.43 L111.5 189 L112 189.39 L112.5 190.09 L113 190.95 L113.5 191.9 L114 192.91 L114.5 193.94 L115 194.97 L115.5 195.97 L116 196.93 L116.5 197.85 L117 198.71 L117.5 199.51 L118 200.24 L118.5 200.92 L119 201.53 L119.5 202.07 L120 202.56 L120.5 203 L121 203.39 L121.5 203.72 L122 204.02 L122.5 204.28 L123 205.7" fill="none" stroke="#707070" stroke-width="0.6" stroke-linejoin="round" stroke-dasharray="1 0.7"/>
<path d="M86.8 205.6 L102.5 205.6 L103 204.6 L103.5 205 L104 204.22 L104.5 204.61 L105 204.02 L105.5 203.61 L106 203.43 L106.5 203.37 L107 202.23 L107.5 201.51 L108 201.3 L108.5 200.23 L109 199.23 L109.5 198.38 L110 197.2 L110.5 196.35 L111 195.4 L111.5 194.18 L112 193.9 L112.5 191.65 L113 190.92 L113.5 188.97 L114 188.38 L114.5 186.71 L115 187.18 L115.5 186.94 L116 189.44 L116.5 189.61 L117 189.44 L117.5 190.94 L118 192.82 L118.5 191.79 L119 194.16 L119.5 194.18 L120 195.12 L120.5 196.52 L121 196.49 L121.5 197.42 L122 198.39 L122.5 199.46 L123 199.15 L123.5 200.39 L124 200.75 L124.5 201.15 L125 201.34 L125.5 201.71 L126 201.81 L126.5 202.26 L127 202.54 L127.5 203.47 L128 203.3 L128.5 203.47 L129 205.6 L131 205.6" fill="none" stroke="#111" stroke-width="1.2" stroke-linejoin="round"/>
<line x1="16.6" y1="217.9" x2="16.6" y2="265.2" stroke="#8f8f8f" stroke-width="0.6"/>
<line x1="15.1" y1="217.9" x2="16.6" y2="217.9" stroke="#8f8f8f" stroke-width="0.5"/>
<line x1="16.3" y1="265.2" x2="76" y2="265.2" stroke="#8a8a8a" stroke-width="0.7"/>
<text class="N" x="15.6" y="219.7" font-size="3.9" font-weight="bold" text-anchor="end" fill="#111" stroke="#111" stroke-width="0.12">90</text>
<text class="N" x="15.4" y="266.7" font-size="3.59" font-weight="bold" text-anchor="end" fill="#222" stroke="#222" stroke-width="0.11">0</text>
<line x1="15.4" y1="265.2" x2="15.4" y2="266.4" stroke="#555" stroke-width="0.5"/>
<text class="N" x="16.1" y="269.72" font-size="3.7" font-weight="bold" text-anchor="middle" fill="#111" stroke="#111" stroke-width="0.12">10<tspan dy="-1.18" font-size="2.66">0</tspan></text>
<line x1="30.2" y1="265.2" x2="30.2" y2="266.4" stroke="#555" stroke-width="0.5"/>
<text class="N" x="30.9" y="269.72" font-size="3.7" font-weight="bold" text-anchor="middle" fill="#111" stroke="#111" stroke-width="0.12">10<tspan dy="-1.18" font-size="2.66">1</tspan></text>
<line x1="45" y1="265.2" x2="45" y2="266.4" stroke="#555" stroke-width="0.5"/>
<text class="N" x="45.7" y="269.72" font-size="3.7" font-weight="bold" text-anchor="middle" fill="#111" stroke="#111" stroke-width="0.12">10<tspan dy="-1.18" font-size="2.66">2</tspan></text>
<line x1="59.8" y1="265.2" x2="59.8" y2="266.4" stroke="#555" stroke-width="0.5"/>
<text class="N" x="60.5" y="269.72" font-size="3.7" font-weight="bold" text-anchor="middle" fill="#111" stroke="#111" stroke-width="0.12">10<tspan dy="-1.18" font-size="2.66">3</tspan></text>
<line x1="73.9" y1="265.2" x2="73.9" y2="266.4" stroke="#555" stroke-width="0.5"/>
<text class="N" x="74.6" y="269.72" font-size="3.7" font-weight="bold" text-anchor="middle" fill="#111" stroke="#111" stroke-width="0.12">10<tspan dy="-1.18" font-size="2.66">4</tspan></text>
<path d="M16.86 265.2 L17.36 264.18 L17.86 263.36 L18.36 262.11 L18.86 260.59 L19.36 258.61 L19.86 256.15 L20.36 252.72 L20.86 249.24 L21.36 244.86 L21.86 241.35 L22.36 237.08 L22.86 232.49 L23.36 228.7 L23.86 227.72 L24.36 225.5 L24.86 225.85 L25.36 226.62 L25.86 229.72 L26.36 233.11 L26.86 236.94 L27.36 240.61 L27.86 245.09 L28.36 248.48 L28.86 252.29 L29.36 255.23 L29.86 258.01 L30.36 259.82 L30.86 261.39 L31.36 262.71 L31.86 263.5 L32.36 265.2 Z" fill="#8b8b8b" stroke="#777" stroke-width="0.5" stroke-linejoin="round"/>
<path d="M16.4 265.1 L24.5 265.02 L24.77 265.01 L25.16 264.74 L25.6 264.5 L26.07 264.25 L26.5 263.42 L26.9 262.75 L27.3 262.44 L27.7 261.01 L28.1 260.53 L28.5 259.6 L28.9 258.3 L29.31 257.93 L29.71 257.04 L30.11 255.95 L30.5 255.16 L30.88 254.38 L31.26 253.08 L31.63 252.56 L31.98 251.85 L32.3 251.53 L32.57 251.12 L32.78 250.87 L32.99 250.53 L33.22 250.68 L33.5 250.53 L33.84 250.63 L34.22 250.51 L34.63 250.65 L35.06 251.03 L35.5 251.5 L35.96 251.65 L36.44 252.53 L36.94 252.71 L37.46 253.14 L38 253.49 L38.56 253.84 L39.14 253.99 L39.74 253.92 L40.36 254.77 L41 255.07 L41.68 255.28 L42.41 255.71 L43.15 256.23 L43.86 256.25 L44.5 257.17 L45.06 257.28 L45.55 257.63 L46.01 258.24 L46.48 259.02 L47 259.09 L47.55 259.88 L48.12 260.45 L48.7 260.49 L49.33 260.78 L50 261.19 L50.74 261.65 L51.53 262.01 L52.35 262.18 L53.18 262.46 L54 262.3 L54.78 262.57 L55.55 262.83 L56.33 263.34 L57.14 263.2 L58 263.55 L58.94 263.33 L59.93 263.53 L60.95 263.84 L61.98 264.27 L63 264.43 L64.08 264.57 L65.24 264.44 L66.36 264.72 L67.32 264.8 L68 264.9 L70 265.1" fill="none" stroke="#111" stroke-width="1.25" stroke-linejoin="round"/>
<path d="M33.5 250.3 L33.7 250.09 L33.98 249.78 L34.32 249.5 L34.7 249.4 L35.13 249.54 L35.62 249.83 L36.15 250.21 L36.7 250.6 L37.28 251.01 L37.89 251.48 L38.53 251.96 L39.2 252.4 L39.9 252.78 L40.64 253.13 L41.4 253.49 L42.2 253.9 L43.06 254.38 L43.98 254.9 L44.88 255.45 L45.7 256 L46.38 256.57 L46.98 257.16 L47.56 257.75 L48.2 258.3 L48.99 258.85 L49.86 259.39 L50.65 259.87 L51.2 260.2" fill="none" stroke="#707070" stroke-width="0.6" stroke-linejoin="round" stroke-dasharray="1 0.7"/>
<line x1="86.8" y1="217.9" x2="86.8" y2="265" stroke="#8f8f8f" stroke-width="0.6"/>
<line x1="85.3" y1="217.9" x2="86.8" y2="217.9" stroke="#8f8f8f" stroke-width="0.5"/>
<line x1="86.5" y1="265" x2="146" y2="265" stroke="#8a8a8a" stroke-width="0.7"/>
<text class="N" x="85.8" y="219.7" font-size="3.9" font-weight="bold" text-anchor="end" fill="#111" stroke="#111" stroke-width="0.12">90</text>
<text class="N" x="85.6" y="266.5" font-size="3.59" font-weight="bold" text-anchor="end" fill="#222" stroke="#222" stroke-width="0.11">0</text>
<line x1="85.3" y1="265" x2="85.3" y2="266.2" stroke="#555" stroke-width="0.5"/>
<text class="N" x="86" y="269.52" font-size="3.7" font-weight="bold" text-anchor="middle" fill="#111" stroke="#111" stroke-width="0.12">10<tspan dy="-1.18" font-size="2.66">0</tspan></text>
<line x1="99.5" y1="265" x2="99.5" y2="266.2" stroke="#555" stroke-width="0.5"/>
<text class="N" x="100.2" y="269.52" font-size="3.7" font-weight="bold" text-anchor="middle" fill="#111" stroke="#111" stroke-width="0.12">10<tspan dy="-1.18" font-size="2.66">1</tspan></text>
<line x1="114.6" y1="265" x2="114.6" y2="266.2" stroke="#555" stroke-width="0.5"/>
<text class="N" x="115.3" y="269.52" font-size="3.7" font-weight="bold" text-anchor="middle" fill="#111" stroke="#111" stroke-width="0.12">10<tspan dy="-1.18" font-size="2.66">2</tspan></text>
<line x1="129.1" y1="265" x2="129.1" y2="266.2" stroke="#555" stroke-width="0.5"/>
<text class="N" x="129.8" y="269.52" font-size="3.7" font-weight="bold" text-anchor="middle" fill="#111" stroke="#111" stroke-width="0.12">10<tspan dy="-1.18" font-size="2.66">3</tspan></text>
<line x1="143.9" y1="265" x2="143.9" y2="266.2" stroke="#555" stroke-width="0.5"/>
<text class="N" x="144.6" y="269.52" font-size="3.7" font-weight="bold" text-anchor="middle" fill="#111" stroke="#111" stroke-width="0.12">10<tspan dy="-1.18" font-size="2.66">4</tspan></text>
<path d="M87.18 265 L87.68 263.68 L88.18 263.38 L88.68 262.07 L89.18 261.16 L89.68 259.37 L90.18 256.45 L90.68 253.92 L91.18 250.88 L91.68 247.29 L92.18 242.64 L92.68 238.25 L93.18 234.2 L93.68 231.96 L94.18 228.12 L94.68 227.17 L95.18 225.97 L95.68 227.4 L96.18 229.95 L96.68 231.31 L97.18 235.79 L97.68 239.16 L98.18 243.62 L98.68 247.3 L99.18 250.48 L99.68 254.29 L100.18 256.71 L100.68 258.67 L101.18 260.45 L101.68 262.07 L102.18 263.03 L102.68 263.65 L103.18 265 Z" fill="#8b8b8b" stroke="#777" stroke-width="0.5" stroke-linejoin="round"/>
<path d="M86.6 264.9 L98.4 264.69 L98.59 264.44 L98.86 264.53 L99.17 263.56 L99.5 263.51 L99.8 262.74 L100.08 261.09 L100.36 260.24 L100.65 258.51 L100.93 256.96 L101.2 254.85 L101.47 253.16 L101.73 251.29 L101.98 249.81 L102.24 247.69 L102.5 245.9 L102.76 244.5 L103.03 243.04 L103.29 241.66 L103.55 240.62 L103.8 240.23 L104.03 239.13 L104.24 239.04 L104.46 238.16 L104.67 237.9 L104.9 237.91 L105.15 237.63 L105.41 237.84 L105.67 238.45 L105.94 238.69 L106.2 239.02 L106.46 239.34 L106.71 240.07 L106.97 240.72 L107.23 241.18 L107.5 242.15 L107.79 242.71 L108.08 244.36 L108.38 245.43 L108.69 246.93 L109 248.1 L109.31 249.07 L109.62 250.16 L109.93 252.01 L110.26 252.64 L110.6 253.98 L110.95 254.91 L111.31 255.85 L111.68 257.06 L112.08 258.07 L112.5 258.33 L112.94 259.3 L113.38 259.67 L113.86 260.41 L114.39 260.79 L115 261.07 L115.69 261.43 L116.44 261.75 L117.26 262.47 L118.11 262.39 L119 262.4 L119.94 263.08 L120.93 263.3 L121.95 263.07 L122.98 263 L124 263.18 L125 263.28 L126 263.62 L127 263.61 L128 263.87 L129 264.03 L130.08 264.39 L131.24 264.75 L132.36 264.79 L133.32 264.66 L134 264.8 L136 264.9" fill="none" stroke="#111" stroke-width="1.35" stroke-linejoin="round"/>
<path d="M102.5 247.6 L102.74 246.43 L103.08 244.73 L103.46 242.97 L103.8 241.6 L104.08 240.73 L104.35 240.12 L104.62 239.72 L104.9 239.5 L105.21 239.46 L105.54 239.62 L105.87 239.94 L106.2 240.4 L106.52 240.97 L106.84 241.68 L107.16 242.55 L107.5 243.6 L107.86 244.9 L108.23 246.42 L108.61 248.03 L109 249.6 L109.43 251.24 L109.89 252.97 L110.31 254.52 L110.6 255.6" fill="none" stroke="#fff" stroke-width="0.45" stroke-linejoin="round"/>
<text class="S" x="78.5" y="281.9" font-size="9.27" font-weight="bold" text-anchor="middle" fill="#000" textLength="80.34" lengthAdjust="spacingAndGlyphs" stroke="#000" stroke-width="0.46">Fluorescence intensity</text>
<rect x="180.8" y="139.4" width="99.9" height="83.6" fill="#fff" stroke="#707070" stroke-width="0.8"/>
<line x1="180.8" y1="139.4" x2="180.8" y2="223" stroke="#7a7a7a" stroke-width="0.9"/>
<line x1="180.8" y1="223" x2="280.7" y2="223" stroke="#222" stroke-width="1"/>
<line x1="180.8" y1="223" x2="182" y2="223" stroke="#777" stroke-width="0.4"/>
<text class="N" x="178.4" y="224.95" font-size="5.3" font-weight="bold" text-anchor="end" fill="#0a0a0a" stroke="#0a0a0a" stroke-width="0.18">0</text>
<line x1="180.8" y1="213.71" x2="182" y2="213.71" stroke="#777" stroke-width="0.4"/>
<text class="N" x="178.4" y="215.66" font-size="5.3" font-weight="bold" text-anchor="end" fill="#0a0a0a" textLength="7.67" lengthAdjust="spacingAndGlyphs" stroke="#0a0a0a" stroke-width="0.18">100</text>
<line x1="180.8" y1="204.42" x2="182" y2="204.42" stroke="#777" stroke-width="0.4"/>
<text class="N" x="178.4" y="206.37" font-size="5.3" font-weight="bold" text-anchor="end" fill="#0a0a0a" textLength="7.67" lengthAdjust="spacingAndGlyphs" stroke="#0a0a0a" stroke-width="0.18">200</text>
<line x1="180.8" y1="195.13" x2="182" y2="195.13" stroke="#777" stroke-width="0.4"/>
<text class="N" x="178.4" y="197.08" font-size="5.3" font-weight="bold" text-anchor="end" fill="#0a0a0a" textLength="7.67" lengthAdjust="spacingAndGlyphs" stroke="#0a0a0a" stroke-width="0.18">300</text>
<line x1="180.8" y1="185.84" x2="182" y2="185.84" stroke="#777" stroke-width="0.4"/>
<text class="N" x="178.4" y="187.79" font-size="5.3" font-weight="bold" text-anchor="end" fill="#0a0a0a" textLength="7.67" lengthAdjust="spacingAndGlyphs" stroke="#0a0a0a" stroke-width="0.18">400</text>
<line x1="180.8" y1="176.56" x2="182" y2="176.56" stroke="#777" stroke-width="0.4"/>
<text class="N" x="178.4" y="178.51" font-size="5.3" font-weight="bold" text-anchor="end" fill="#0a0a0a" textLength="7.67" lengthAdjust="spacingAndGlyphs" stroke="#0a0a0a" stroke-width="0.18">500</text>
<line x1="180.8" y1="167.27" x2="182" y2="167.27" stroke="#777" stroke-width="0.4"/>
<text class="N" x="178.4" y="169.22" font-size="5.3" font-weight="bold" text-anchor="end" fill="#0a0a0a" textLength="7.67" lengthAdjust="spacingAndGlyphs" stroke="#0a0a0a" stroke-width="0.18">600</text>
<line x1="180.8" y1="157.98" x2="182" y2="157.98" stroke="#777" stroke-width="0.4"/>
<text class="N" x="178.4" y="159.93" font-size="5.3" font-weight="bold" text-anchor="end" fill="#0a0a0a" textLength="7.67" lengthAdjust="spacingAndGlyphs" stroke="#0a0a0a" stroke-width="0.18">700</text>
<line x1="180.8" y1="148.69" x2="182" y2="148.69" stroke="#777" stroke-width="0.4"/>
<text class="N" x="178.4" y="150.64" font-size="5.3" font-weight="bold" text-anchor="end" fill="#0a0a0a" textLength="7.67" lengthAdjust="spacingAndGlyphs" stroke="#0a0a0a" stroke-width="0.18">800</text>
<line x1="180.8" y1="139.4" x2="182" y2="139.4" stroke="#777" stroke-width="0.4"/>
<text class="N" x="178.4" y="141.35" font-size="5.3" font-weight="bold" text-anchor="end" fill="#0a0a0a" textLength="7.67" lengthAdjust="spacingAndGlyphs" stroke="#0a0a0a" stroke-width="0.18">900</text>
<rect x="191.6" y="207.2" width="14.3" height="15.8" fill="#cfcfcf" stroke="#a8a8a8" stroke-width="0.4" stroke-dasharray="0.8 0.6"/>
<line x1="198.75" y1="206" x2="198.75" y2="208.4" stroke="#3a3a3a" stroke-width="0.6"/>
<line x1="197.75" y1="206" x2="199.75" y2="206" stroke="#3a3a3a" stroke-width="0.45"/>
<rect x="205.9" y="154.4" width="14.6" height="68.6" fill="#555555" stroke="#444" stroke-width="0.4"/>
<line x1="213.2" y1="149.8" x2="213.2" y2="159" stroke="#3a3a3a" stroke-width="0.6"/>
<line x1="212.2" y1="149.8" x2="214.2" y2="149.8" stroke="#3a3a3a" stroke-width="0.45"/>
<rect x="241" y="218.2" width="15" height="4.8" fill="#cfcfcf" stroke="#a8a8a8" stroke-width="0.4" stroke-dasharray="0.8 0.6"/>
<line x1="248.5" y1="217.3" x2="248.5" y2="219.1" stroke="#3a3a3a" stroke-width="0.6"/>
<line x1="247.5" y1="217.3" x2="249.5" y2="217.3" stroke="#3a3a3a" stroke-width="0.45"/>
<rect x="256" y="215" width="14.2" height="8" fill="#555555" stroke="#444" stroke-width="0.4"/>
<line x1="263.1" y1="214.5" x2="263.1" y2="215.5" stroke="#3a3a3a" stroke-width="0.6"/>
<line x1="262.1" y1="214.5" x2="264.1" y2="214.5" stroke="#3a3a3a" stroke-width="0.45"/>
<text class="N" x="198.3" y="204.3" font-size="4.9" font-weight="normal" text-anchor="middle" fill="#1a1a1a" textLength="15.17" lengthAdjust="spacingAndGlyphs" stroke="#1a1a1a" stroke-width="0.06">179.72</text>
<text class="N" x="213.3" y="148.9" font-size="4.9" font-weight="normal" text-anchor="middle" fill="#1a1a1a" textLength="15.17" lengthAdjust="spacingAndGlyphs" stroke="#1a1a1a" stroke-width="0.06">737.79</text>
<text class="N" x="248" y="215.3" font-size="4.9" font-weight="normal" text-anchor="middle" fill="#1a1a1a" textLength="12.41" lengthAdjust="spacingAndGlyphs" stroke="#1a1a1a" stroke-width="0.06">50.84</text>
<text class="N" x="263.2" y="213.2" font-size="4.9" font-weight="normal" text-anchor="middle" fill="#1a1a1a" textLength="9.65" lengthAdjust="spacingAndGlyphs" stroke="#1a1a1a" stroke-width="0.06">89.2</text>
<text class="S" x="167.5" y="178.6" font-size="5.37" font-weight="bold" text-anchor="middle" fill="#111" transform="rotate(-90 167.5 178.6)" stroke="#111" stroke-width="0.27">Mean Fluorescence Intensity</text>
<text class="S" x="207.1" y="233.4" font-size="7.74" font-weight="bold" text-anchor="middle" fill="#000" textLength="29.58" lengthAdjust="spacingAndGlyphs" stroke="#000" stroke-width="0.39">FITC-DX</text>
<text class="S" x="256.9" y="233.4" font-size="7.74" font-weight="bold" text-anchor="middle" fill="#000" textLength="9.21" lengthAdjust="spacingAndGlyphs" stroke="#000" stroke-width="0.39">LY</text>
<text class="S" x="340" y="147.7" font-size="11.77" font-weight="bold" text-anchor="middle" fill="#000" textLength="19.81" lengthAdjust="spacingAndGlyphs" stroke="#000" stroke-width="0.59">LPS</text>
<text class="S" x="406.9" y="147.2" font-size="11.99" font-weight="bold" text-anchor="middle" fill="#000" textLength="29.63" lengthAdjust="spacingAndGlyphs" stroke="#000" stroke-width="0.6"><tspan font-weight="normal" stroke-width="0.1">β</tspan>ig-h3</text>
<text class="S" x="482.4" y="147.7" font-size="11.77" font-weight="bold" text-anchor="middle" fill="#000" textLength="26.4" lengthAdjust="spacingAndGlyphs" stroke="#000" stroke-width="0.59">CD14</text>
<text class="S" x="303.6" y="179.7" font-size="8.4" font-weight="bold" text-anchor="middle" fill="#000" transform="rotate(-90 303.6 179.7)" stroke="#000" stroke-width="0.42">Events</text>
<line x1="308" y1="155.4" x2="308" y2="202.2" stroke="#8f8f8f" stroke-width="0.6"/>
<line x1="306.5" y1="155.4" x2="308" y2="155.4" stroke="#8f8f8f" stroke-width="0.5"/>
<line x1="307.7" y1="202.2" x2="368" y2="202.2" stroke="#8a8a8a" stroke-width="0.7"/>
<text class="N" x="307" y="157.2" font-size="3.9" font-weight="bold" text-anchor="end" fill="#111" stroke="#111" stroke-width="0.12">35</text>
<text class="N" x="306.8" y="203.7" font-size="3.59" font-weight="bold" text-anchor="end" fill="#222" stroke="#222" stroke-width="0.11">0</text>
<line x1="307.4" y1="202.2" x2="307.4" y2="203.4" stroke="#555" stroke-width="0.5"/>
<text class="N" x="308.1" y="206.72" font-size="3.7" font-weight="bold" text-anchor="middle" fill="#111" stroke="#111" stroke-width="0.12">10<tspan dy="-1.18" font-size="2.66">0</tspan></text>
<line x1="322.2" y1="202.2" x2="322.2" y2="203.4" stroke="#555" stroke-width="0.5"/>
<text class="N" x="322.9" y="206.72" font-size="3.7" font-weight="bold" text-anchor="middle" fill="#111" stroke="#111" stroke-width="0.12">10<tspan dy="-1.18" font-size="2.66">1</tspan></text>
<line x1="337" y1="202.2" x2="337" y2="203.4" stroke="#555" stroke-width="0.5"/>
<text class="N" x="337.7" y="206.72" font-size="3.7" font-weight="bold" text-anchor="middle" fill="#111" stroke="#111" stroke-width="0.12">10<tspan dy="-1.18" font-size="2.66">2</tspan></text>
<line x1="351.8" y1="202.2" x2="351.8" y2="203.4" stroke="#555" stroke-width="0.5"/>
<text class="N" x="352.5" y="206.72" font-size="3.7" font-weight="bold" text-anchor="middle" fill="#111" stroke="#111" stroke-width="0.12">10<tspan dy="-1.18" font-size="2.66">3</tspan></text>
<line x1="366.6" y1="202.2" x2="366.6" y2="203.4" stroke="#555" stroke-width="0.5"/>
<text class="N" x="367.3" y="206.72" font-size="3.7" font-weight="bold" text-anchor="middle" fill="#111" stroke="#111" stroke-width="0.12">10<tspan dy="-1.18" font-size="2.66">4</tspan></text>
<path d="M323 201.9 L324.33 201.29 L326.25 200.44 L328.3 199.3 L330 197.8 L331.23 195.89 L332.25 193.61 L333.14 191.05 L334 188.3 L334.83 185.24 L335.59 181.86 L336.3 178.45 L337 175.3 L337.69 172.17 L338.37 169.01 L339.01 166.4 L339.6 164.9 L340.11 164.85 L340.56 165.89 L341 167.53 L341.5 169.3 L342.08 171.34 L342.71 173.83 L343.36 176.29 L344 178.3 L344.62 179.8 L345.24 181.01 L345.86 181.87 L346.5 182.3 L347.17 181.98 L347.86 181.04 L348.55 180.14 L349.2 179.9 L349.79 180.53 L350.33 181.67 L350.89 183.15 L351.5 184.8 L352.19 186.68 L352.94 188.84 L353.71 191.11 L354.5 193.3 L355.38 195.56 L356.34 197.93 L357.2 200.03 L357.8 201.5" fill="none" stroke="#707070" stroke-width="0.6" stroke-linejoin="round" stroke-dasharray="1 0.7"/>
<path d="M322.5 202.15 L322.97 202.12 L323.62 201.91 L324.4 201.72 L325.21 201.33 L326 201.17 L326.78 201.23 L327.61 200.33 L328.45 200.09 L329.26 199.6 L330 199.02 L330.67 197.76 L331.3 196.8 L331.88 195.67 L332.45 194.55 L333 193.27 L333.54 192.15 L334.05 190.54 L334.54 188.92 L335.02 186.72 L335.5 185.02 L335.99 183.63 L336.47 181.82 L336.95 179.64 L337.39 177.91 L337.8 176 L338.16 174.92 L338.5 174.1 L338.8 173.04 L339.06 172.22 L339.3 171.58 L339.49 170.59 L339.63 170.09 L339.74 169.84 L339.86 169.92 L340 170.01 L340.16 170.28 L340.33 170.41 L340.5 170.75 L340.69 171.33 L340.9 171.77 L341.13 172.62 L341.37 173.25 L341.62 174.75 L341.9 175.53 L342.2 177.05 L342.52 178.03 L342.85 179.03 L343.21 180.16 L343.59 181.47 L344 182.88 L344.46 184.05 L344.95 184.8 L345.47 185.87 L345.99 187.22 L346.5 188.35 L347 189.34 L347.5 190.36 L348 191.7 L348.5 192.44 L349 193.68 L349.51 194.85 L350.02 196.22 L350.54 197.08 L351.03 198.19 L351.5 198.79 L351.94 199.36 L352.36 199.99 L352.76 200.95 L353.14 201.25 L353.5 201.38 L353.86 201.49 L354.21 201.96 L354.53 202.17 L354.8 202.09 L355 202.2 Z" fill="#a9a9a9" stroke="#2a2a2a" stroke-width="0.7" stroke-linejoin="round"/>
<path d="M320.7 201.83 L321.43 202.04 L322.45 202.1 L323.65 201.48 L324.87 201.23 L326 201.39 L327.04 201.47 L328.07 201.74 L329.09 201.5 L330.07 202 L331 201.97 L331.87 201.73 L332.7 201.4 L333.48 201.79 L334.25 201.15 L335 201.32 L335.75 200.74 L336.48 200.57 L337.2 200.76 L337.87 200.19 L338.5 200.32 L339.07 199.56 L339.6 198.83 L340.08 198.28 L340.55 197.83 L341 197.42 L341.44 197.04 L341.86 195.9 L342.25 195.48 L342.63 194.74 L343 194.63 L343.35 193.41 L343.67 192.69 L343.98 192.02 L344.29 191.53 L344.6 191.08 L344.92 190.13 L345.25 188.96 L345.57 188.05 L345.89 186.98 L346.2 185.68 L346.5 184.82 L346.79 184.65 L347.07 183.93 L347.34 182.99 L347.6 183.22 L347.83 183.04 L348.04 183.26 L348.24 183.63 L348.45 184.01 L348.7 184.45 L348.98 185.27 L349.28 186.06 L349.61 187.3 L349.95 187.6 L350.3 189.12 L350.67 189.61 L351.07 190.82 L351.48 192.29 L351.89 193.43 L352.3 194.25 L352.7 195.05 L353.1 196.43 L353.51 197.41 L353.91 198.76 L354.3 199.09 L354.72 199.92 L355.16 200.92 L355.58 200.83 L355.94 201.52 L356.2 201.9 L356.2 202.2 L320.7 202.2 Z" fill="#a9a9a9" stroke="none" stroke-width="1" stroke-linejoin="round"/>
<path d="M322.5 202.39 L322.97 202.26 L323.62 201.71 L324.4 201.54 L325.21 201.33 L326 201.55 L326.78 200.8 L327.61 200.71 L328.45 200.33 L329.26 199.42 L330 198.66 L330.67 198.21 L331.3 197.01 L331.88 195.68 L332.45 194.74 L333 193.19 L333.54 191.74 L334.05 190.03 L334.54 188.85 L335.02 187.25 L335.5 185.38 L335.99 183.77 L336.47 181.29 L336.95 179.5 L337.39 177.85 L337.8 176.57 L338.16 175.26 L338.5 173.77 L338.8 172.7 L339.06 171.96 L339.3 171.3 L339.49 170.99 L339.63 170.13 L339.74 170.23 L339.86 170.05 L340 170.09 L340.16 170.18 L340.33 170.34 L340.5 170.56 L340.69 171.06 L340.9 171.72 L341.13 172.75 L341.37 173.28 L341.62 174.4 L341.9 175.84 L342.2 176.65 L342.52 177.68 L342.85 178.87 L343.21 180.42 L343.59 181.51 L344 183.09 L344.46 184.16 L344.95 185.33 L345.47 185.98 L345.99 186.96 L346.5 188.06 L347 189.41 L347.5 190.65 L348 191.6 L348.5 192.57 L349 193.75 L349.51 194.94 L350.02 196.05 L350.54 197.14 L351.03 198.16 L351.5 198.9 L351.94 199.29 L352.36 200.35 L352.76 200.55 L353.14 201.16 L353.5 201.42 L353.86 201.92 L354.21 201.78 L354.53 201.91 L354.8 201.98 L355 202.2" fill="none" stroke="#222" stroke-width="0.8" stroke-linejoin="round"/>
<path d="M320.7 201.83 L321.43 202.04 L322.45 202.1 L323.65 201.48 L324.87 201.23 L326 201.39 L327.04 201.47 L328.07 201.74 L329.09 201.5 L330.07 202 L331 201.97 L331.87 201.73 L332.7 201.4 L333.48 201.79 L334.25 201.15 L335 201.32 L335.75 200.74 L336.48 200.57 L337.2 200.76 L337.87 200.19 L338.5 200.32 L339.07 199.56 L339.6 198.83 L340.08 198.28 L340.55 197.83 L341 197.42 L341.44 197.04 L341.86 195.9 L342.25 195.48 L342.63 194.74 L343 194.63 L343.35 193.41 L343.67 192.69 L343.98 192.02 L344.29 191.53 L344.6 191.08 L344.92 190.13 L345.25 188.96 L345.57 188.05 L345.89 186.98 L346.2 185.68 L346.5 184.82 L346.79 184.65 L347.07 183.93 L347.34 182.99 L347.6 183.22 L347.83 183.04 L348.04 183.26 L348.24 183.63 L348.45 184.01 L348.7 184.45 L348.98 185.27 L349.28 186.06 L349.61 187.3 L349.95 187.6 L350.3 189.12 L350.67 189.61 L351.07 190.82 L351.48 192.29 L351.89 193.43 L352.3 194.25 L352.7 195.05 L353.1 196.43 L353.51 197.41 L353.91 198.76 L354.3 199.09 L354.72 199.92 L355.16 200.92 L355.58 200.83 L355.94 201.52 L356.2 201.9" fill="none" stroke="#111" stroke-width="1.3" stroke-linejoin="round"/>
<line x1="376.4" y1="155.4" x2="376.4" y2="202.3" stroke="#8f8f8f" stroke-width="0.6"/>
<line x1="374.9" y1="155.4" x2="376.4" y2="155.4" stroke="#8f8f8f" stroke-width="0.5"/>
<line x1="376.1" y1="202.3" x2="438.5" y2="202.3" stroke="#8a8a8a" stroke-width="0.7"/>
<text class="N" x="375.4" y="157.2" font-size="3.9" font-weight="bold" text-anchor="end" fill="#111" stroke="#111" stroke-width="0.12">35</text>
<text class="N" x="375.2" y="203.8" font-size="3.59" font-weight="bold" text-anchor="end" fill="#222" stroke="#222" stroke-width="0.11">0</text>
<line x1="375.4" y1="202.3" x2="375.4" y2="203.5" stroke="#555" stroke-width="0.5"/>
<text class="N" x="376.1" y="206.82" font-size="3.7" font-weight="bold" text-anchor="middle" fill="#111" stroke="#111" stroke-width="0.12">10<tspan dy="-1.18" font-size="2.66">0</tspan></text>
<line x1="391.5" y1="202.3" x2="391.5" y2="203.5" stroke="#555" stroke-width="0.5"/>
<text class="N" x="392.2" y="206.82" font-size="3.7" font-weight="bold" text-anchor="middle" fill="#111" stroke="#111" stroke-width="0.12">10<tspan dy="-1.18" font-size="2.66">1</tspan></text>
<line x1="408.3" y1="202.3" x2="408.3" y2="203.5" stroke="#555" stroke-width="0.5"/>
<text class="N" x="409" y="206.82" font-size="3.7" font-weight="bold" text-anchor="middle" fill="#111" stroke="#111" stroke-width="0.12">10<tspan dy="-1.18" font-size="2.66">2</tspan></text>
<line x1="424.3" y1="202.3" x2="424.3" y2="203.5" stroke="#555" stroke-width="0.5"/>
<text class="N" x="425" y="206.82" font-size="3.7" font-weight="bold" text-anchor="middle" fill="#111" stroke="#111" stroke-width="0.12">10<tspan dy="-1.18" font-size="2.66">3</tspan></text>
<line x1="436.3" y1="202.3" x2="436.3" y2="203.5" stroke="#555" stroke-width="0.5"/>
<text class="N" x="437" y="206.82" font-size="3.7" font-weight="bold" text-anchor="middle" fill="#111" stroke="#111" stroke-width="0.12">10<tspan dy="-1.18" font-size="2.66">4</tspan></text>
<path d="M380 202.09 L380.8 202.44 L381.92 202.13 L383.24 201.83 L384.64 201.71 L386 201.9 L387.34 201.45 L388.74 201.13 L390.17 201.31 L391.6 200.99 L393 200.89 L394.4 200.01 L395.82 199.86 L397.22 199.61 L398.56 199.05 L399.8 198.35 L400.95 196.9 L402.04 195.99 L403.06 194.68 L403.98 193.41 L404.8 192.48 L405.48 190.74 L406.02 189.32 L406.48 187.26 L406.92 185.76 L407.4 183.67 L407.91 181.58 L408.43 179.76 L408.94 177.72 L409.43 175.17 L409.9 173.66 L410.34 171.99 L410.76 170.11 L411.17 168.76 L411.55 167.55 L411.9 167.02 L412.2 167.09 L412.45 167.82 L412.69 168.75 L412.96 169.63 L413.3 170.81 L413.73 172.57 L414.22 174.7 L414.75 176.48 L415.28 178.56 L415.8 180.22 L416.29 181.95 L416.76 182.95 L417.24 183.72 L417.74 184.83 L418.3 186.24 L418.91 187.76 L419.56 189.34 L420.24 190.6 L420.95 192.21 L421.7 194.02 L422.51 195.32 L423.38 196.75 L424.26 198.21 L425.12 199.87 L425.9 200.49 L426.64 201.33 L427.37 201.64 L428.04 201.93 L428.6 202.37 L429 202.3 Z" fill="#a9a9a9" stroke="#333" stroke-width="0.7" stroke-linejoin="round"/>
<path d="M414 187.7 L414.28 186.66 L414.68 185.67 L415.15 184.89 L415.61 183.29 L416 181.7 L416.32 180.49 L416.6 178.16 L416.87 176.21 L417.13 173.81 L417.4 172.13 L417.67 170.04 L417.94 168.06 L418.21 166.27 L418.49 165.08 L418.8 163.88 L419.1 163.09 L419.39 161.88 L419.7 161.68 L420.09 161.17 L420.6 161 L421.29 160.66 L422.14 160.77 L423.04 161.08 L423.89 161.62 L424.6 161.57 L425.14 162.37 L425.57 163.29 L425.94 164.24 L426.27 164.75 L426.6 165.78 L426.92 167.46 L427.2 168.82 L427.47 169.96 L427.73 171.17 L428 173.16 L428.28 174.25 L428.56 175.98 L428.84 177.26 L429.12 178.93 L429.4 180.2 L429.68 182.4 L429.96 184.01 L430.24 186.15 L430.52 188.5 L430.8 190.6 L431.1 192.52 L431.43 195.09 L431.74 197.68 L432.01 199.9 L432.2 201.4" fill="none" stroke="#222" stroke-width="0.65" stroke-linejoin="round"/>
<path d="M384 201.91 L385.26 201.66 L387.06 201.7 L389.13 202.02 L391.2 202.06 L393 201.23 L394.52 201.47 L395.92 201.4 L397.25 200.57 L398.53 200.94 L399.8 200.09 L401.06 200.22 L402.31 199.92 L403.51 199.71 L404.64 199.13 L405.7 198.84 L406.65 198.54 L407.5 197.95 L408.3 197.62 L409.09 196.82 L409.9 196.05 L410.77 194.76 L411.66 194.12 L412.54 192.8 L413.37 191.37 L414.1 190.61 L414.72 189.61 L415.26 188.47 L415.74 187.3 L416.18 186.36 L416.6 184.49 L416.99 182.3 L417.34 179.85 L417.66 176.69 L417.97 174.2 L418.3 171.91 L418.64 169.57 L418.98 168.28 L419.32 166.3 L419.66 165.55 L420 164.62 L420.34 163.86 L420.68 163.31 L421.02 163.74 L421.36 163.79 L421.7 164.36 L422.04 163.75 L422.38 164.38 L422.72 164.61 L423.06 164.62 L423.4 165.05 L423.74 165.01 L424.08 166.14 L424.42 166.41 L424.76 167.66 L425.1 168.83 L425.44 169.83 L425.78 172.27 L426.12 174.54 L426.46 176.11 L426.8 178.58 L427.14 181.17 L427.47 183.06 L427.8 186.06 L428.14 187.97 L428.5 190.75 L428.91 192.67 L429.37 195.56 L429.83 198.39 L430.22 199.95 L430.5 201.7" fill="none" stroke="#111" stroke-width="1.35" stroke-linejoin="round"/>
<line x1="451.6" y1="155.6" x2="451.6" y2="203.1" stroke="#8f8f8f" stroke-width="0.6"/>
<line x1="450.1" y1="155.6" x2="451.6" y2="155.6" stroke="#8f8f8f" stroke-width="0.5"/>
<line x1="451.3" y1="203.1" x2="516.5" y2="203.1" stroke="#8a8a8a" stroke-width="0.7"/>
<text class="N" x="450.6" y="157.4" font-size="3.9" font-weight="bold" text-anchor="end" fill="#111" stroke="#111" stroke-width="0.12">50</text>
<text class="N" x="450.4" y="204.6" font-size="3.59" font-weight="bold" text-anchor="end" fill="#222" stroke="#222" stroke-width="0.11">0</text>
<line x1="451.3" y1="203.1" x2="451.3" y2="204.3" stroke="#555" stroke-width="0.5"/>
<text class="N" x="452" y="207.62" font-size="3.7" font-weight="bold" text-anchor="middle" fill="#111" stroke="#111" stroke-width="0.12">10<tspan dy="-1.18" font-size="2.66">0</tspan></text>
<line x1="466.8" y1="203.1" x2="466.8" y2="204.3" stroke="#555" stroke-width="0.5"/>
<text class="N" x="467.5" y="207.62" font-size="3.7" font-weight="bold" text-anchor="middle" fill="#111" stroke="#111" stroke-width="0.12">10<tspan dy="-1.18" font-size="2.66">1</tspan></text>
<line x1="482.9" y1="203.1" x2="482.9" y2="204.3" stroke="#555" stroke-width="0.5"/>
<text class="N" x="483.6" y="207.62" font-size="3.7" font-weight="bold" text-anchor="middle" fill="#111" stroke="#111" stroke-width="0.12">10<tspan dy="-1.18" font-size="2.66">2</tspan></text>
<line x1="498.8" y1="203.1" x2="498.8" y2="204.3" stroke="#555" stroke-width="0.5"/>
<text class="N" x="499.5" y="207.62" font-size="3.7" font-weight="bold" text-anchor="middle" fill="#111" stroke="#111" stroke-width="0.12">10<tspan dy="-1.18" font-size="2.66">3</tspan></text>
<line x1="514.6" y1="203.1" x2="514.6" y2="204.3" stroke="#555" stroke-width="0.5"/>
<text class="N" x="515.3" y="207.62" font-size="3.7" font-weight="bold" text-anchor="middle" fill="#111" stroke="#111" stroke-width="0.12">10<tspan dy="-1.18" font-size="2.66">4</tspan></text>
<path d="M475.5 203.1 L476 200.02 L476.5 199 L477 197.72 L477.5 196.13 L478 194.2 L478.5 191.91 L479 189.25 L479.5 186.22 L480 182.89 L480.5 179.34 L481 175.72 L481.5 172.23 L482 169.16 L482.5 166.91 L483 166.6 L483.5 168.49 L484 171.27 L484.5 174.54 L485 178 L485.5 181.46 L486 184.77 L486.5 187.83 L487 190.57 L487.5 192.96 L488 195.02 L488.5 196.74 L489 198.16 L489.5 199.31 L490 200.23 L490.5 200.95 L491 203.1" fill="none" stroke="#707070" stroke-width="0.6" stroke-linejoin="round" stroke-dasharray="1 0.7"/>
<path d="M475.5 202.96 L475.77 202.87 L476.16 202.46 L476.61 201.89 L477.07 201.47 L477.5 200.8 L477.89 200.51 L478.28 199.53 L478.67 198.68 L479.04 197.03 L479.4 195.87 L479.74 193.45 L480.08 191.26 L480.4 188.7 L480.7 186 L481 184.12 L481.29 182.1 L481.56 180.45 L481.82 179.14 L482.07 177.37 L482.3 176.8 L482.5 175.67 L482.67 174.81 L482.84 174.52 L483.01 173.85 L483.2 174.09 L483.41 173.81 L483.63 173.8 L483.87 174.35 L484.12 174.65 L484.4 175.21 L484.7 176.57 L485.01 177.48 L485.34 179.42 L485.7 180.58 L486.1 182.18 L486.56 183.71 L487.08 184.83 L487.62 186.18 L488.14 187.11 L488.6 187.8 L488.99 188.28 L489.34 188.47 L489.66 188.75 L489.97 188.76 L490.3 189.31 L490.63 190.51 L490.94 191.34 L491.26 192.84 L491.61 194.53 L492 195.41 L492.45 196.51 L492.94 197.77 L493.46 198.61 L493.99 199.65 L494.5 200.33 L495.01 201.19 L495.52 201.71 L496.04 201.9 L496.53 202.49 L497 202.68 L497.46 202.68 L497.93 203.27 L498.37 202.9 L498.74 202.86 L499 203.1 Z" fill="#a9a9a9" stroke="#333" stroke-width="0.7" stroke-linejoin="round"/>
<path d="M483.01 173.85 L483.2 174.09 L483.41 173.81 L483.63 173.8 L483.87 174.35 L484.12 174.65 L484.4 175.21 L484.7 176.57 L485.01 177.48 L485.34 179.42 L485.7 180.58 L486.1 182.18 L486.56 183.71 L487.08 184.83 L487.62 186.18 L488.14 187.11 L488.6 187.8 L488.99 188.28 L489.34 188.47 L489.66 188.75 L489.97 188.76 L490.3 189.31 L490.63 190.51 L490.94 191.34 L491.26 192.84 L491.61 194.53 L492 195.41 L492.45 196.51 L492.94 197.77 L493.46 198.61 L493.99 199.65 L494.5 200.33 L495.01 201.19 L495.52 201.71 L496.04 201.9 L496.53 202.49 L497 202.68" fill="none" stroke="#111" stroke-width="1.25" stroke-linejoin="round"/>
<path d="M481 202.66 L481.35 202.75 L481.85 202.58 L482.43 202.14 L483 201.46 L483.5 200.86 L483.89 200.2 L484.24 200.09 L484.56 199.43 L484.91 198.48 L485.3 197.49 L485.76 195.77 L486.25 194.13 L486.77 191.85 L487.29 189.3 L487.8 187.44 L488.31 184.56 L488.84 182.29 L489.36 179.66 L489.85 177.2 L490.3 175.14 L490.7 174.06 L491.08 172.42 L491.42 171.8 L491.72 171.26 L492 170.09 L492.22 169.49 L492.38 169.23 L492.52 168.81 L492.68 168.7 L492.9 168.79 L493.18 168.52 L493.48 168.82 L493.82 169.24 L494.2 169.81 L494.6 171.43 L495.05 172.98 L495.54 174.96 L496.06 176.85 L496.59 179.82 L497.1 182.25 L497.61 184.76 L498.14 187.89 L498.66 190.7 L499.16 193.3 L499.6 195.46 L499.98 197.18 L500.31 198.3 L500.62 199.42 L500.91 200.44 L501.2 201.12 L501.52 201.84 L501.84 202.22 L502.15 202.3 L502.41 202.73 L502.6 202.9" fill="none" stroke="#333" stroke-width="0.65" stroke-linejoin="round"/>
<line x1="371.4" y1="214.5" x2="399.6" y2="214.5" stroke="#222" stroke-width="0.8"/>
<line x1="441.2" y1="214.9" x2="470.2" y2="214.9" stroke="#222" stroke-width="0.8"/>
<text class="S" x="421.7" y="216.9" font-size="8.45" font-weight="bold" text-anchor="middle" fill="#000" textLength="32.29" lengthAdjust="spacingAndGlyphs" stroke="#000" stroke-width="0.42">FITC-DX</text>
</svg></body></html>
